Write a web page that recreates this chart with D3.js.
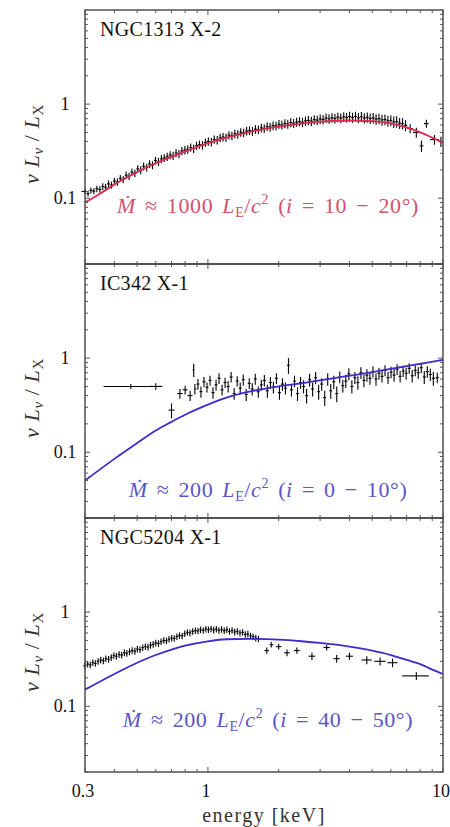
<!DOCTYPE html>
<html>
<head>
<meta charset="utf-8">
<script src="https://cdn.jsdelivr.net/npm/d3@7"></script>
<style>
  body { margin: 0; background: #fff; }
</style>
</head>
<body>
<div id="chart"></div>
<script>
// ---- data ----
var xTickValues = [0.3, 1, 10];
var yTickValues = [0.1, 1];
var sourceNames = ["NGC1313 X-2", "IC342 X-1", "NGC5204 X-1"];
var mdotValues = ["1000", "200", "200"];
var inclinations = ["10 \u2212 20\u00b0", "0 \u2212 10\u00b0", "40 \u2212 50\u00b0"];

// model curves [energy keV, nuLnu/LX]
var ngc1313Model = [[0.3,0.09],[0.35,0.113],[0.4,0.14],[0.5,0.19],[0.6,0.235],[0.7,0.275],[0.8,0.315],[1,0.385],
  [1.2,0.44],[1.5,0.505],[2,0.575],[2.5,0.62],[3,0.65],[4,0.67],[5,0.66],[6,0.625],[7,0.565],[8,0.50],[9,0.44],[10,0.39]];
var ic342Model = [[0.3,0.05],[0.4,0.085],[0.5,0.125],[0.6,0.17],[0.7,0.21],[0.8,0.25],[1,0.32],[1.2,0.38],
  [1.5,0.44],[2,0.50],[2.5,0.54],[3,0.58],[4,0.65],[5,0.71],[6,0.77],[7,0.82],[8,0.87],[10,0.96]];
var ngc5204Model = [[0.3,0.15],[0.4,0.22],[0.5,0.29],[0.6,0.35],[0.7,0.40],[0.8,0.44],[1,0.49],[1.2,0.515],
  [1.5,0.52],[2,0.51],[2.5,0.49],[3,0.47],[4,0.43],[5,0.39],[6,0.35],[7,0.31],[8,0.28],[9,0.245],[10,0.22]];

// spectra [energy, value, error, (energy lo, energy hi)]
var ngc1313Data = [[0.300,0.118,0.008,0.29,0.305],[0.309,0.112,0.008],[0.318,0.121,0.009],[0.327,0.119,0.009],
  [0.337,0.126,0.01],[0.347,0.124,0.01],[0.357,0.133,0.011],[0.367,0.131,0.011],[0.378,0.142,0.012],[0.389,0.138,0.012],
  [0.400,0.152,0.013],[0.412,0.149,0.013],[0.424,0.163,0.014],[0.436,0.158,0.014],[0.449,0.176,0.016],[0.462,0.171,0.016],
  [0.475,0.189,0.017],[0.489,0.184,0.017],[0.503,0.205,0.019],[0.518,0.199,0.019],[0.533,0.218,0.021],[0.549,0.212,0.021],
  [0.565,0.231,0.022],[0.581,0.225,0.022],[0.598,0.252,0.024],[0.616,0.244,0.024],[0.634,0.262,0.026],[0.652,0.268,0.026],
  [0.671,0.276,0.028],[0.691,0.288,0.028],[0.711,0.283,0.029],[0.732,0.302,0.03],[0.753,0.296,0.03],[0.775,0.318,0.032],
  [0.798,0.325,0.033],[0.821,0.331,0.034],[0.845,0.346,0.035],[0.870,0.338,0.035],[0.895,0.362,0.037],[0.921,0.372,0.038],
  [0.948,0.366,0.038],[0.976,0.392,0.04],[1.004,0.401,0.041],[1.034,0.395,0.041],[1.064,0.421,0.043],[1.095,0.416,0.043],
  [1.127,0.438,0.045],[1.160,0.447,0.046],[1.194,0.441,0.046],[1.229,0.468,0.048],[1.265,0.462,0.048],[1.302,0.485,0.05],
  [1.340,0.478,0.05],[1.379,0.503,0.052],[1.419,0.496,0.052],[1.461,0.517,0.054],[1.503,0.524,0.055],[1.547,0.515,0.055],
  [1.593,0.541,0.057],[1.639,0.535,0.057],[1.687,0.559,0.059],[1.736,0.552,0.059],[1.787,0.578,0.061],[1.839,0.569,0.061],
  [1.893,0.592,0.063],[1.949,0.586,0.063],[2.005,0.611,0.065],[2.064,0.601,0.065],[2.125,0.622,0.067],[2.187,0.615,0.067],
  [2.251,0.638,0.069],[2.316,0.627,0.069],[2.384,0.645,0.071],[2.454,0.652,0.072],[2.526,0.641,0.072],[2.600,0.663,0.074],
  [2.676,0.671,0.075],[2.754,0.659,0.075],[2.834,0.684,0.077],[2.917,0.676,0.077],[3.003,0.695,0.079],[3.090,0.687,0.079],
  [3.181,0.712,0.081],[3.274,0.698,0.081],[3.370,0.716,0.083],[3.468,0.704,0.083],[3.570,0.726,0.085],[3.674,0.711,0.085],
  [3.782,0.733,0.087],[3.892,0.719,0.087],[4.006,0.738,0.089],[4.123,0.721,0.089],[4.244,0.741,0.09],[4.368,0.716,0.09],
  [4.496,0.734,0.09],[4.627,0.712,0.09],[4.762,0.725,0.09],[4.902,0.703,0.09],[5.045,0.714,0.09],[5.193,0.692,0.09],
  [5.344,0.701,0.09],[5.501,0.679,0.09],[5.661,0.686,0.09],[5.827,0.664,0.09],[5.997,0.671,0.09],[6.173,0.648,0.09],
  [6.353,0.652,0.09],[6.539,0.628,0.085],[6.730,0.621,0.085],[6.927,0.596,0.08,6.83,7.05],
  [7.25,0.55,0.06,7.05,7.45],[7.7,0.50,0.06,7.45,7.95],[8.1,0.36,0.05,7.95,8.25],[8.5,0.62,0.06,8.3,8.7],
  [9.2,0.42,0.05,8.8,9.6],[9.8,0.40,0.05,9.6,10]];

var ic342Data = [[0.47,0.50,0.03,0.36,0.56],[0.60,0.50,0.04,0.56,0.64],[0.70,0.28,0.05,0.68,0.72],
  [0.76,0.42,0.05,0.74,0.78],[0.80,0.46,0.05,0.78,0.82],[0.84,0.40,0.05,0.82,0.86],[0.87,0.75,0.12,0.86,0.875],
  [0.880,0.47,0.06],[0.907,0.53,0.07],[0.934,0.44,0.06],[0.962,0.56,0.07],[0.991,0.49,0.06],[1.021,0.58,0.07],
  [1.051,0.43,0.06],[1.083,0.52,0.07],[1.115,0.61,0.08],[1.149,0.46,0.06],[1.183,0.55,0.07],[1.219,0.50,0.07],
  [1.255,0.63,0.08],[1.293,0.42,0.06],[1.332,0.57,0.07],[1.372,0.48,0.07],[1.413,0.59,0.08],[1.455,0.41,0.06],
  [1.499,0.54,0.07],[1.544,0.47,0.07],[1.590,0.60,0.08],[1.638,0.44,0.06],[1.687,0.52,0.07],[1.738,0.58,0.08],
  [1.790,0.45,0.07],[1.844,0.55,0.08],[1.899,0.49,0.07],[1.956,0.61,0.08],[2.015,0.43,0.07],[2.075,0.53,0.08],
  [2.137,0.48,0.07],[2.201,0.84,0.16],[2.267,0.46,0.07],[2.335,0.57,0.08],[2.405,0.42,0.07],[2.478,0.55,0.08],
  [2.552,0.50,0.08],[2.629,0.40,0.07],[2.707,0.59,0.09],[2.789,0.47,0.08],[2.872,0.62,0.09],[2.958,0.44,0.08],
  [3.047,0.53,0.08],[3.139,0.38,0.07],[3.233,0.60,0.09],[3.330,0.45,0.08],[3.430,0.56,0.09],[3.532,0.42,0.08],
  [3.638,0.63,0.09],[3.748,0.51,0.08],[3.860,0.57,0.09],[3.976,0.68,0.1],[4.095,0.50,0.08],[4.218,0.62,0.09],
  [4.344,0.55,0.09],[4.475,0.70,0.1],[4.609,0.58,0.09],[4.747,0.66,0.1],[4.890,0.61,0.09],[5.036,0.72,0.1],
  [5.187,0.60,0.09],[5.343,0.69,0.1],[5.503,0.64,0.09],[5.668,0.74,0.1],[5.838,0.62,0.09],[6.013,0.71,0.1],
  [6.194,0.66,0.1],[6.380,0.76,0.1],[6.571,0.64,0.09],[6.768,0.73,0.1],[6.971,0.69,0.1],[7.180,0.78,0.1],
  [7.396,0.65,0.1],[7.618,0.74,0.1],[7.846,0.70,0.1],[8.082,0.79,0.1],[8.324,0.63,0.1],[8.574,0.72,0.1],
  [8.831,0.67,0.1],[9.096,0.61,0.1,8.96,9.25],[9.45,0.62,0.08,9.3,9.6]];

var ngc5204Data = [[0.300,0.27,0.022,0.295,0.304],[0.308,0.28,0.022],[0.316,0.275,0.022],[0.324,0.29,0.023],[0.332,0.285,0.023],
  [0.341,0.30,0.024],[0.350,0.31,0.025],[0.359,0.305,0.025],[0.368,0.32,0.026],[0.378,0.315,0.026],[0.388,0.33,0.027],
  [0.398,0.345,0.028],[0.408,0.34,0.028],[0.419,0.355,0.029],[0.430,0.35,0.029],[0.441,0.37,0.03],[0.452,0.365,0.03],
  [0.464,0.38,0.031],[0.476,0.39,0.032],[0.489,0.385,0.032],[0.501,0.405,0.033],[0.514,0.40,0.033],[0.528,0.42,0.034],
  [0.542,0.43,0.035],[0.556,0.425,0.035],[0.570,0.445,0.036],[0.585,0.455,0.037],[0.600,0.47,0.038],[0.616,0.465,0.038],
  [0.632,0.485,0.039],[0.649,0.50,0.04],[0.666,0.495,0.04],[0.683,0.515,0.041],[0.701,0.53,0.042],[0.719,0.525,0.042],
  [0.738,0.55,0.044],[0.757,0.565,0.045],[0.777,0.56,0.045],[0.797,0.59,0.047],[0.818,0.61,0.048],[0.839,0.60,0.048],
  [0.861,0.625,0.05],[0.884,0.635,0.05],[0.907,0.63,0.05],[0.930,0.65,0.052],[0.955,0.64,0.052],[0.980,0.66,0.053],
  [1.005,0.65,0.052],[1.031,0.665,0.053],[1.058,0.645,0.052],[1.086,0.66,0.053],[1.114,0.64,0.052],[1.143,0.655,0.053],
  [1.173,0.635,0.051],[1.204,0.65,0.052],[1.235,0.625,0.05],[1.267,0.64,0.051],[1.300,0.615,0.05],[1.334,0.625,0.05],
  [1.369,0.60,0.048],[1.405,0.61,0.049],[1.442,0.58,0.047],[1.479,0.585,0.047],[1.518,0.56,0.045],[1.557,0.55,0.044],
  [1.598,0.53,0.043],[1.640,0.52,0.042,1.62,1.68],
  [1.78,0.39,0.03,1.74,1.82],[1.86,0.45,0.03,1.83,1.90],[2.0,0.43,0.03,1.95,2.05],[2.17,0.37,0.03,2.11,2.23],
  [2.39,0.39,0.03,2.32,2.46],[2.77,0.34,0.03,2.68,2.86],[3.2,0.42,0.03,3.1,3.3],[3.53,0.32,0.03,3.42,3.64],
  [4.0,0.34,0.03,3.86,4.14],[4.74,0.31,0.03,4.5,4.98],[5.4,0.30,0.03,5.1,5.7],[6.1,0.29,0.03,5.8,6.4],
  [7.7,0.21,0.02,6.7,8.7]];

var panelData = [ngc1313Data, ic342Data, ngc5204Data];
var panelModels = [ngc1313Model, ic342Model, ngc5204Model];
var modelColors = ["#e0284f", "#3a2ccf", "#3a2ccf"];
var labelColors = ["#d4506e", "#5a55c8", "#5a55c8"];

// ---- layout ----
var W = 450, H = 827;
var left = 85, right = 443;
var panelTop = 10, panelH = 254;
var serif = "'Liberation Serif', 'Times New Roman', 'DejaVu Serif', serif";

var svg = d3.select("#chart").append("svg")
  .attr("width", W).attr("height", H)
  .attr("font-family", serif)
  .style("font-family", serif);

var x = d3.scaleLog().domain([0.3, 10]).range([left, right]);

var minorX = [0.4,0.5,0.6,0.7,0.8,0.9,2,3,4,5,6,7,8,9];
var minorY = [];
[0.01, 0.1, 1].forEach(function(d) {
  for (var k = 2; k <= 9; k++) {
    var v = d * k;
    if (v >= 0.02 && v < 10) minorY.push(v);
  }
});

var annotationY = [213, 497, 727];

panelData.forEach(function(data, i) {
  var top = panelTop + i * panelH;
  var y = d3.scaleLog().domain([0.02, 10]).range([top + panelH, top]);
  var g = svg.append("g");

  // spectrum error crosses
  var pts = data.map(function(d, j) {
    var lo = d[3], hi = d[4];
    if (lo === undefined) {
      var prev = data[j - 1], next = data[j + 1];
      lo = prev ? Math.sqrt(prev[0] * d[0]) : d[0] * d[0] / Math.sqrt(next[0] * d[0]);
      hi = next ? Math.sqrt(next[0] * d[0]) : d[0] * d[0] / Math.sqrt(prev[0] * d[0]);
    }
    return {e: d[0], v: d[1], dv: d[2], lo: lo, hi: hi};
  });

  g.selectAll("line.herr").data(pts).enter().append("line")
    .attr("x1", function(d) { return x(d.lo); })
    .attr("x2", function(d) { return x(d.hi); })
    .attr("y1", function(d) { return y(d.v); })
    .attr("y2", function(d) { return y(d.v); })
    .attr("stroke", "#000").attr("stroke-width", 1.1);

  g.selectAll("line.verr").data(pts).enter().append("line")
    .attr("x1", function(d) { return x(d.e); })
    .attr("x2", function(d) { return x(d.e); })
    .attr("y1", function(d) { return y(d.v - d.dv); })
    .attr("y2", function(d) { return y(d.v + d.dv); })
    .attr("stroke", "#000").attr("stroke-width", 1.1);

  // model curve
  var line = d3.line()
    .x(function(d) { return x(d[0]); })
    .y(function(d) { return y(d[1]); })
    .curve(d3.curveMonotoneX);
  g.append("path").datum(panelModels[i])
    .attr("d", line)
    .attr("fill", "none")
    .attr("stroke", modelColors[i])
    .attr("stroke-width", 1.8);

  // frame
  g.append("rect")
    .attr("x", left).attr("y", top)
    .attr("width", right - left).attr("height", panelH)
    .attr("fill", "none").attr("stroke", "#444").attr("stroke-width", 1.4);

  // ticks, inside, on all four sides
  var ax = g.append("g").attr("stroke", "#555").attr("stroke-width", 1);
  xTickValues.concat(minorX).forEach(function(t) {
    var len = xTickValues.indexOf(t) >= 0 ? 5 : 3;
    ax.append("line").attr("x1", x(t)).attr("x2", x(t)).attr("y1", top + panelH).attr("y2", top + panelH - len);
    ax.append("line").attr("x1", x(t)).attr("x2", x(t)).attr("y1", top).attr("y2", top + len);
  });
  yTickValues.concat(minorY).forEach(function(t) {
    var len = yTickValues.indexOf(t) >= 0 ? 5 : 3;
    ax.append("line").attr("x1", left).attr("x2", left + len).attr("y1", y(t)).attr("y2", y(t));
    ax.append("line").attr("x1", right).attr("x2", right - len).attr("y1", y(t)).attr("y2", y(t));
  });

  // y tick labels
  g.selectAll("text.ytick").data(yTickValues).enter().append("text")
    .attr("x", 65).attr("y", function(d) { return y(d) + 6; })
    .attr("text-anchor", "middle")
    .style("font-size", "18px").attr("fill", "#111")
    .text(function(d) { return d; });

  // y axis label
  var yl = g.append("text")
    .attr("transform", "translate(39," + (top + panelH / 2 + 7) + ") rotate(-90)")
    .attr("text-anchor", "middle")
    .style("font-size", "22px").attr("fill", "#333")
    .style("letter-spacing", "0.6px");
  yl.append("tspan").style("font-style", "italic").text("\u03bd L");
  yl.append("tspan").style("font-style", "italic").style("font-size", "15px").attr("dy", 4).text("\u03bd");
  yl.append("tspan").attr("dy", -4).text(" / ");
  yl.append("tspan").style("font-style", "italic").text("L");
  yl.append("tspan").style("font-size", "15px").attr("dy", 4).text("X");

  // source name
  g.append("text")
    .attr("x", 100).attr("y", top + 26)
    .style("font-size", "20px").attr("fill", "#111")
    .style("letter-spacing", "0.3px")
    .text(sourceNames[i]);

  // accretion-rate annotation
  var an = g.append("text")
    .attr("x", (left + right) / 2 + 4).attr("y", annotationY[i])
    .attr("text-anchor", "middle")
    .style("font-size", "22px").attr("fill", labelColors[i])
    .style("letter-spacing", "0.6px").style("word-spacing", "3px");
  an.append("tspan").style("font-style", "italic").text("\u1e40");
  an.append("tspan").text(" \u2248 " + mdotValues[i] + " ");
  an.append("tspan").style("font-style", "italic").text("L");
  an.append("tspan").style("font-size", "14px").attr("dy", 4).text("E");
  an.append("tspan").attr("dy", -4).text("/");
  an.append("tspan").style("font-style", "italic").text("c");
  an.append("tspan").style("font-size", "14px").attr("dy", -9).text("2");
  an.append("tspan").attr("dy", 9).text(" (");
  an.append("tspan").style("font-style", "italic").text("i");
  an.append("tspan").text(" = " + inclinations[i] + ")");
});

// x tick labels + axis title under the last panel
var bottom = panelTop + 3 * panelH;
svg.selectAll("text.xtick").data(xTickValues).enter().append("text")
  .attr("x", function(d) { return x(d) - 2; })
  .attr("y", bottom + 25)
  .attr("text-anchor", "middle")
  .style("font-size", "18px").attr("fill", "#111")
  .text(function(d) { return d; });

svg.append("text")
  .attr("x", (left + right) / 2)
  .attr("y", bottom + 50)
  .attr("text-anchor", "middle")
  .style("font-size", "20px").attr("fill", "#333")
  .style("letter-spacing", "1.5px")
  .text("energy [keV]");
</script>
</body>
</html>
